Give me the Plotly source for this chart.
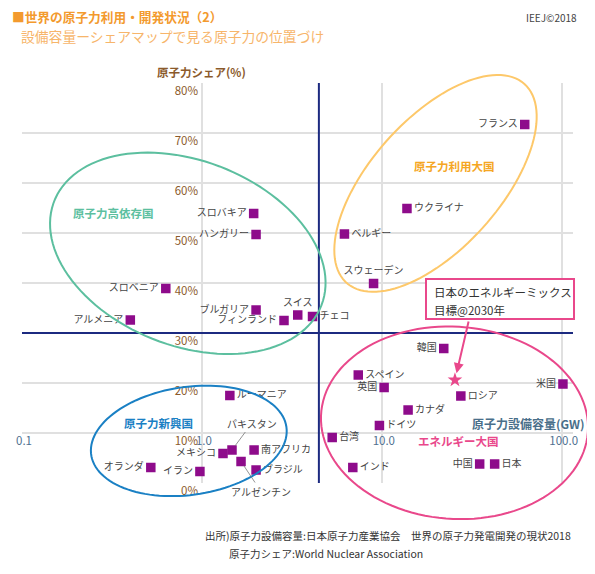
import numpy as np
import plotly.graph_objects as go

# ---------------- data ----------------
countries = ["フランス", "ウクライナ", "ベルギー", "スウェーデン", "スロバキア", "ハンガリー",
             "スロベニア", "アルメニア", "ブルガリア", "フィンランド", "スイス", "チェコ",
             "ルーマニア", "パキスタン", "メキシコ", "南アフリカ", "アルゼンチン", "ブラジル",
             "イラン", "オランダ", "韓国", "スペイン", "英国", "米国", "ロシア", "カナダ",
             "ドイツ", "台湾", "インド", "中国", "日本"]
capacity_gw = [62.3, 13.8, 6.2, 9.0, 1.94, 2.0,
               0.63, 0.40, 2.0, 2.86, 3.41, 4.12,
               1.43, 1.47, 1.31, 1.95, 1.65, 2.0,
               0.975, 0.52, 22.1, 7.4, 10.3, 101.6, 27.5, 14.0,
               9.7, 5.3, 6.9, 35.0, 42.4]
nuclear_share = [71.7, 54.9, 49.8, 39.9, 53.9, 49.7,
                 38.9, 32.6, 34.6, 32.5, 33.6, 33.3,
                 17.5, 6.6, 5.9, 6.6, 4.3, 2.6,
                 2.3, 3.1, 26.9, 21.6, 19.1, 19.8, 17.4, 14.6,
                 11.5, 9.1, 3.1, 3.8, 3.8]

target_name = "日本のエネルギーミックス目標@2030年"
target_gw = [25.5]
target_share = [20.6]

threshold_gw = 4.47
threshold_share = 30

x_tickvals = [0.1, 1, 10, 100]
x_ticktext = ["0.1", "1.0", "10.0", "100.0"]
y_tickvals = [0, 10, 20, 30, 40, 50, 60, 70, 80]
y_ticktext = ["0%", "10%", "20%", "30%", "40%", "50%", "60%", "70%", "80%"]

# ---------------- styling ----------------
FONT = "Noto Sans CJK JP"
PURPLE = "#8e0b8b"
PINK = "#e9488b"
GREEN = "#5cbf9f"
ORANGE_E = "#fdc86a"
ORANGE_T = "#f5a623"
BLUE = "#1a80c4"
NAVY = "#1c2a80"
BROWN = "#8b5a2b"
STEEL = "#4f7090"

label_pos = {
    "フランス": "middle left", "スロバキア": "middle left", "ハンガリー": "middle left",
    "スロベニア": "middle left", "アルメニア": "middle left", "ブルガリア": "middle left",
    "フィンランド": "middle left", "メキシコ": "middle left", "イラン": "middle left",
    "オランダ": "middle left", "韓国": "middle left", "英国": "middle left",
    "米国": "middle left", "中国": "middle left",
    "スイス": "top center", "スウェーデン": "top center",
}
leader_labels = {"パキスタン": (20, -27), "アルゼンチン": (20, 30)}

OFF = 8  # page body margin offset
L, T, W, H = 22 - OFF, 83 - OFF, 551, 400
FIG_W, FIG_H = 595, 574
X_MAX_LOG = -1 + W / 179.9


def P(px, py):
    # px, py are target screen pixels
    return (px - OFF - L) / W, (T + H - (py - OFF)) / H


def ellipse_path(cx, cy, a, b, phi_deg, n=120):
    phi = np.radians(phi_deg)
    t = np.linspace(0, 2 * np.pi, n)
    xs = cx + a * np.cos(t) * np.cos(phi) - b * np.sin(t) * np.sin(phi)
    ys = cy + a * np.cos(t) * np.sin(phi) + b * np.sin(t) * np.cos(phi)
    pts = [P(x, y) for x, y in zip(xs, ys)]
    return "M " + " L ".join(f"{x:.5f},{y:.5f}" for x, y in pts) + " Z"


fig = go.Figure()

# threshold lines
fig.add_trace(go.Scatter(x=[threshold_gw, threshold_gw], y=[0, 80], mode="lines",
                         line=dict(color=NAVY, width=2), hoverinfo="skip", showlegend=False))
fig.add_trace(go.Scatter(x=[10 ** -1, 10 ** X_MAX_LOG], y=[threshold_share, threshold_share],
                         mode="lines", line=dict(color=NAVY, width=2), hoverinfo="skip",
                         showlegend=False))

texts = ["" if c in leader_labels else c for c in countries]
positions = [label_pos.get(c, "middle right") for c in countries]
fig.add_trace(go.Scatter(
    x=capacity_gw, y=nuclear_share, mode="markers+text", text=texts,
    textposition=positions, textfont=dict(family=FONT, size=10, color="#444444"),
    marker=dict(symbol="square", size=9.5, color=PURPLE),
    cliponaxis=False, showlegend=False, name="countries"))

fig.add_trace(go.Scatter(x=target_gw, y=target_share, mode="markers",
                         marker=dict(symbol="star", size=11, color=PINK),
                         cliponaxis=False, showlegend=False, name=target_name))

shapes = [
    dict(type="path", xref="paper", yref="paper", path=ellipse_path(187.8, 253.3, 143.4, 92.5, 21.3),
         line=dict(color=GREEN, width=2)),
    dict(type="path", xref="paper", yref="paper", path=ellipse_path(435.5, 183.4, 133.4, 64.8, -48.2),
         line=dict(color=ORANGE_E, width=2)),
    dict(type="path", xref="paper", yref="paper", path=ellipse_path(188.8, 440.9, 98.6, 54.0, -8.1),
         line=dict(color=BLUE, width=2)),
    dict(type="path", xref="paper", yref="paper", path=ellipse_path(454.5, 422.8, 133.7, 96.1, 4.0),
         line=dict(color=PINK, width=2)),
]
bx0, by0 = P(426, 279)
bx1, by1 = P(574, 319)
shapes.append(dict(type="rect", xref="paper", yref="paper", x0=bx0, x1=bx1, y0=by0, y1=by1,
                   line=dict(color=PINK, width=2), fillcolor="white", layer="above"))

annotations = []


def txt(text, px, py, size, color, anchor="center", bold=False):
    x, y = P(px, py)
    if bold:
        text = f"<b>{text}</b>"
    annotations.append(dict(text=text, x=x, y=y, xref="paper", yref="paper", xanchor=anchor,
                            yanchor="middle", showarrow=False,
                            font=dict(family=FONT, size=size, color=color)))


txt("■世界の原子力利用・開発状況（2）", 10, 17, 12.7, "#f39a2e", "left", True)
txt("設備容量ーシェアマップで見る原子力の位置づけ", 19, 36, 13.8, "#f7b56a", "left")
txt("IEEJ©2018", 579, 18, 10, "#444444", "right")
txt("原子力シェア(%)", 201, 72, 11.5, BROWN, "center", True)
txt("原子力設備容量(GW)", 528, 423, 12, "#4a6f8a", "center", True)
txt("原子力高依存国", 113, 212.5, 11.5, GREEN, "center", True)
txt("原子力利用大国", 454, 165.5, 11.5, ORANGE_T, "center", True)
txt("原子力新興国", 158, 422.5, 11.5, BLUE, "center", True)
txt("エネルギー大国", 458, 441, 11.5, PINK, "center", True)
txt("日本のエネルギーミックス", 432, 292, 11.5, "#333333", "left")
txt("目標@2030年", 432, 310, 11.5, "#333333", "left")
txt("出所)原子力設備容量:日本原子力産業協会　世界の原子力発電開発の現状2018", 203, 535, 10.5, "#333333", "left")
txt("原子力シェア:World Nuclear Association", 227, 553, 10.5, "#333333", "left")

# leader-line labels
for name, (dx, dy) in leader_labels.items():
    i = countries.index(name)
    annotations.append(dict(x=np.log10(capacity_gw[i]), y=nuclear_share[i], xref="x", yref="y",
                            text=name, showarrow=True, ax=dx, ay=dy, arrowhead=0,
                            arrowwidth=0.8, arrowcolor="#777777", standoff=5,
                            font=dict(family=FONT, size=10, color="#444444")))

# arrow to target star
annotations.append(dict(x=np.log10(target_gw[0]), y=target_share[0], xref="x", yref="y",
                        text="", showarrow=True, ax=14, ay=-60, arrowhead=2, arrowsize=1,
                        arrowwidth=2, arrowcolor=PINK, standoff=7))

fig.update_layout(
    width=FIG_W, height=FIG_H, autosize=False,
    margin=dict(l=L, r=FIG_W - L - W, t=T, b=FIG_H - T - H),
    paper_bgcolor="white", plot_bgcolor="white",
    font=dict(family=FONT),
    shapes=shapes, annotations=annotations, showlegend=False,
    xaxis=dict(type="log", range=[-1, X_MAX_LOG], tickvals=x_tickvals, ticktext=x_ticktext,
               showgrid=True, gridcolor="#e0e0e0", gridwidth=1.5, zeroline=False, showline=False,
               ticks="", anchor="free", position=(H - (432.7 - 83)) / H, ticklabelshift=2,
               automargin=False,
               tickfont=dict(family=FONT, size=11.5, color=STEEL)),
    yaxis=dict(range=[0, 80], tickvals=y_tickvals, ticktext=y_ticktext,
               showgrid=True, gridcolor="#e0e0e0", gridwidth=1.5, zeroline=False, showline=False,
               ticks="", anchor="free", position=(200 - 22) / W, side="left", ticklabelshift=8,
               ticklabelstandoff=2, automargin=False,
               tickfont=dict(family=FONT, size=11.5, color=BROWN)),
)

fig.write_html("out.html")
